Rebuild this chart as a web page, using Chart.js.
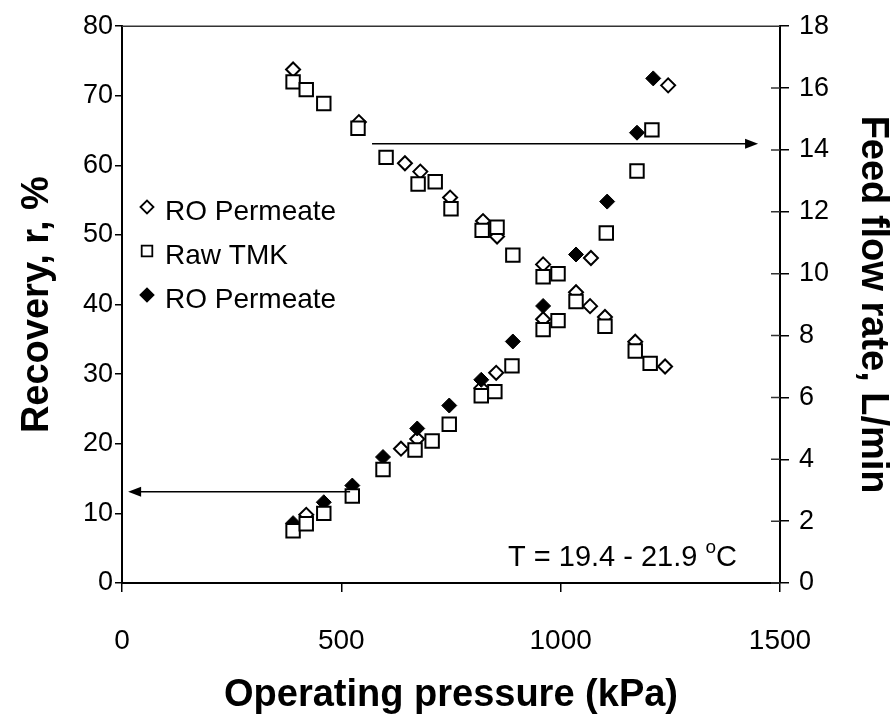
<!DOCTYPE html>
<html>
<head>
<meta charset="utf-8">
<script src="https://cdn.jsdelivr.net/npm/chart.js@4.4.1/dist/chart.umd.min.js"></script>
<style>
  html, body { margin: 0; padding: 0; background: #fff; }
  #wrap { width: 896px; height: 719px; }
</style>
</head>
<body>
<div id="wrap"><canvas id="chart" width="896" height="719"></canvas></div>
<script>
// recovery (left axis), operating pressure in kPa
const roRecoveryX = [420, 636, 673, 819, 853, 960, 1069, 1245];
const roRecoveryY = [9.8, 19.3, 20.7, 28.0, 30.2, 37.9, 46.7, 71.5];
const tmkRecoveryX = [390, 420, 460, 525, 595, 668, 707, 746, 819, 850, 889, 960, 994, 1104, 1174, 1208];
const tmkRecoveryY = [7.5, 8.5, 10.0, 12.5, 16.3, 19.1, 20.4, 22.8, 26.9, 27.5, 31.2, 36.4, 37.7, 50.3, 59.2, 65.1];
const ro2RecoveryX = [390, 460, 525, 595, 673, 746, 819, 891, 960, 1035, 1106, 1174, 1211];
const ro2RecoveryY = [8.6, 11.6, 14.0, 18.1, 22.2, 25.5, 29.2, 34.7, 39.8, 47.2, 54.8, 64.7, 72.5];

// feed flow rate (right axis)
const roFlowX = [390, 540, 645, 680, 748, 823, 855, 960, 1035, 1067, 1101, 1170, 1238];
const roFlowY = [16.6, 14.9, 13.57, 13.3, 12.46, 11.7, 11.2, 10.3, 9.4, 8.95, 8.6, 7.8, 7.0];
const tmkFlowX = [390, 420, 460, 538, 602, 675, 714, 750, 821, 855, 891, 960, 994, 1035, 1101, 1170, 1204];
const tmkFlowY = [16.2, 15.95, 15.5, 14.7, 13.76, 12.9, 12.97, 12.1, 11.4, 11.5, 10.6, 9.9, 10.0, 9.1, 8.3, 7.5, 7.1];

const legendLabels = ["RO Permeate", "Raw TMK", "RO Permeate"];
const xTicks = [0, 500, 1000, 1500];

// arrows: [from pressure, to pressure, value, axis]
const arrowRecovery = [520, 14, 13.1, "y"];
const arrowFlow = [570, 1450, 14.2, "y1"];

const toPoints = (xs, ys) => xs.map((x, i) => ({ x, y: ys[i] }));

const openDiamond = { pointStyle: "rectRot", pointRadius: 7, backgroundColor: "#fff", borderColor: "#000", borderWidth: 2 };
const openSquare = { pointStyle: "rect", pointRadius: 9.5, backgroundColor: "#fff", borderColor: "#000", borderWidth: 2 };
const fullDiamond = { pointStyle: "rectRot", pointRadius: 7.5, backgroundColor: "#000", borderColor: "#000", borderWidth: 1 };

const datasets = [
  { label: legendLabels[0], data: toPoints(roRecoveryX, roRecoveryY), yAxisID: "y", order: 3, ...openDiamond },
  { label: legendLabels[1], data: toPoints(tmkRecoveryX, tmkRecoveryY), yAxisID: "y", order: 1, ...openSquare },
  { label: legendLabels[2], data: toPoints(ro2RecoveryX, ro2RecoveryY), yAxisID: "y", order: 2, ...fullDiamond },
  { label: "flow1", data: toPoints(roFlowX, roFlowY), yAxisID: "y1", order: 3, ...openDiamond },
  { label: "flow2", data: toPoints(tmkFlowX, tmkFlowY), yAxisID: "y1", order: 1, ...openSquare },
];

const FONT = "'Liberation Sans', Arial, sans-serif";

function drawArrow(ctx, x1, y, x2) {
  const dir = x2 > x1 ? 1 : -1;
  ctx.save();
  ctx.strokeStyle = "#000";
  ctx.fillStyle = "#000";
  ctx.lineWidth = 1.5;
  ctx.beginPath();
  ctx.moveTo(x1, y);
  ctx.lineTo(x2 - dir * 10, y);
  ctx.stroke();
  ctx.beginPath();
  ctx.moveTo(x2, y);
  ctx.lineTo(x2 - dir * 13, y - 5);
  ctx.lineTo(x2 - dir * 13, y + 5);
  ctx.closePath();
  ctx.fill();
  ctx.restore();
}

const extrasPlugin = {
  id: "extras",
  afterDatasetsDraw(chart) {
    const { ctx, scales, chartArea } = chart;
    const x = scales.x;

    // top frame line and inner ticks of the right axis
    ctx.save();
    ctx.strokeStyle = "#333";
    ctx.lineWidth = 1.5;
    ctx.beginPath();
    ctx.moveTo(chartArea.left, chartArea.top);
    ctx.lineTo(chartArea.right, chartArea.top);
    scales.y1.ticks.forEach((t) => {
      const py = scales.y1.getPixelForValue(t.value);
      ctx.moveTo(chartArea.right - 9, py);
      ctx.lineTo(chartArea.right, py);
    });
    ctx.stroke();
    ctx.restore();

    [arrowRecovery, arrowFlow].forEach(([from, to, v, axis]) => {
      const yy = scales[axis].getPixelForValue(v);
      drawArrow(ctx, x.getPixelForValue(from), yy, x.getPixelForValue(to));
    });

    // legend inside the plot
    const styles = [openDiamond, openSquare, fullDiamond];
    ctx.save();
    ctx.font = `28px ${FONT}`;
    ctx.textBaseline = "middle";
    ctx.fillStyle = "#000";
    legendLabels.forEach((label, i) => {
      const cy = 211 + i * 44;
      const s = styles[i];
      ctx.save();
      ctx.fillStyle = s.backgroundColor;
      ctx.strokeStyle = s.borderColor;
      ctx.lineWidth = 1.8;
      Chart.helpers.drawPoint(ctx, { pointStyle: s.pointStyle, radius: s.pointStyle === "rect" ? 7.5 : 6.5, borderWidth: 1.8 }, 147, cy - 4);
      ctx.restore();
      ctx.fillText(label, 165, cy + 1);
    });

    // temperature note
    ctx.font = `29px ${FONT}`;
    ctx.textBaseline = "alphabetic";
    let tx = 508;
    const ty = chartArea.bottom - 17;
    const main = "T = 19.4 - 21.9 ";
    ctx.fillText(main, tx, ty);
    tx += ctx.measureText(main).width;
    ctx.font = `19px ${FONT}`;
    ctx.fillText("o", tx, ty - 13);
    tx += ctx.measureText("o").width;
    ctx.font = `29px ${FONT}`;
    ctx.fillText("C", tx, ty);
    ctx.restore();
  },
};

const tickFont = { family: FONT, size: 27 };
const titleFont = { family: FONT, size: 38, weight: "bold" };
const axisGrid = { drawOnChartArea: false, color: "#000", lineWidth: 1.5, tickLength: 9 };
const axisBorder = { display: true, color: "#000", width: 2 };

new Chart(document.getElementById("chart"), {
  type: "scatter",
  data: { datasets },
  plugins: [extrasPlugin],
  options: {
    responsive: false,
    animation: false,
    layout: { padding: { left: 15, right: 1, top: 18, bottom: 1 } },
    plugins: { legend: { display: false }, tooltip: { enabled: false } },
    scales: {
      x: {
        type: "linear",
        min: 0,
        max: 1500,
        afterBuildTicks: (s) => { s.ticks = xTicks.map((v) => ({ value: v })); },
        afterFit: (s) => { s.height = 135; },
        ticks: { color: "#000", font: { ...tickFont, size: 28 }, padding: 32, callback: (v) => String(v) },
        grid: axisGrid,
        border: axisBorder,
        title: { display: true, text: "Operating pressure (kPa)", color: "#000", font: titleFont, padding: 0 },
      },
      y: {
        position: "left",
        min: 0,
        max: 80,
        afterFit: (s) => { s.width = 107; },
        ticks: { stepSize: 10, color: "#000", font: tickFont, padding: 2 },
        grid: { ...axisGrid, tickLength: 7 },
        border: axisBorder,
        title: { display: true, text: "Recovery, r, %", color: "#000", font: titleFont, padding: 0 },
      },
      y1: {
        position: "right",
        min: 0,
        max: 18,
        afterFit: (s) => { s.width = 115; },
        ticks: { stepSize: 2, color: "#000", font: tickFont, padding: 10 },
        grid: axisGrid,
        border: axisBorder,
        title: { display: true, text: "Feed flow rate, L/min", color: "#000", font: titleFont, padding: 0 },
      },
    },
  },
});
</script>
</body>
</html>
